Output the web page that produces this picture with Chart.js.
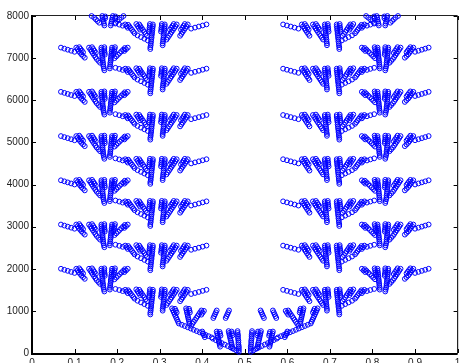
<!DOCTYPE html>
<html>
<head>
<meta charset="utf-8">
<script src="https://cdn.jsdelivr.net/npm/chart.js@4/dist/chart.umd.min.js"></script>
<style>
  html, body { margin: 0; padding: 0; background: #fff; }
  canvas { display: block; }
</style>
</head>
<body>
<canvas id="c" width="461" height="363"></canvas>
<script>
// Axis ticks
const xTicks = [0, 0.1, 0.2, 0.3, 0.4, 0.5, 0.6, 0.7, 0.8, 0.9, 1];
const yTicks = [0, 1000, 2000, 3000, 4000, 5000, 6000, 7000, 8000];

// Outer fronds: x positions shared by every outer row (tail, finger A, B, trunks C, D, finger E)
const outerLeftX = [0.068,0.076,0.084,0.092,0.100,
  0.104,0.107,0.110,0.113,0.116,0.120,0.124, 0.111,0.114,0.117,0.120,
  0.134,0.137,0.140,0.143,0.146,0.149,0.152,0.156,0.160, 0.141,0.144,0.147,0.150,
  0.163,0.163,0.164,0.164,0.165,0.165,0.166,0.166,0.167,0.167,0.168,0.169,0.170, 0.170,0.170,0.170,0.171,0.171,
  0.188,0.188,0.187,0.187,0.186,0.186,0.185,0.185,0.184,0.184,0.183,0.183, 0.195,0.194,0.193,0.192,0.191,
  0.218,0.214,0.210,0.206,0.202,0.198,0.194, 0.225,0.221,0.217];
const outerRightX = [0.932,0.924,0.916,0.908,0.900,
  0.896,0.893,0.890,0.887,0.884,0.880,0.876, 0.889,0.886,0.883,0.880,
  0.866,0.863,0.860,0.857,0.854,0.851,0.848,0.844,0.840, 0.859,0.856,0.853,0.850,
  0.837,0.837,0.836,0.836,0.835,0.835,0.834,0.834,0.833,0.833,0.832,0.831,0.830, 0.830,0.830,0.830,0.829,0.829,
  0.812,0.812,0.813,0.813,0.814,0.814,0.815,0.815,0.816,0.816,0.817,0.817, 0.805,0.806,0.807,0.808,0.809,
  0.782,0.786,0.790,0.794,0.798,0.802,0.806, 0.775,0.779,0.783];

const outerY2000 = [2000,1975,1950,1925,1900,
  2000,1960,1920,1880,1840,1800,1760, 2010,1970,1930,1890,
  2000,1955,1910,1865,1820,1775,1730,1685,1640, 2010,1965,1920,1875,
  2000,1955,1910,1865,1820,1775,1730,1685,1640,1595,1550,1505,1460, 2010,1965,1920,1875,1830,
  2000,1955,1910,1865,1820,1775,1730,1685,1640,1595,1550,1505, 2010,1965,1920,1875,1830,
  1990,1950,1910,1870,1830,1790,1750, 2000,1960,1920];
const outerY3050 = [3050,3025,3000,2975,2950,
  3050,3010,2970,2930,2890,2850,2810, 3060,3020,2980,2940,
  3050,3005,2960,2915,2870,2825,2780,2735,2690, 3060,3015,2970,2925,
  3050,3005,2960,2915,2870,2825,2780,2735,2690,2645,2600,2555,2510, 3060,3015,2970,2925,2880,
  3050,3005,2960,2915,2870,2825,2780,2735,2690,2645,2600,2555, 3060,3015,2970,2925,2880,
  3040,3000,2960,2920,2880,2840,2800, 3050,3010,2970];
const outerY4100 = [4100,4075,4050,4025,4000,
  4100,4060,4020,3980,3940,3900,3860, 4110,4070,4030,3990,
  4100,4055,4010,3965,3920,3875,3830,3785,3740, 4110,4065,4020,3975,
  4100,4055,4010,3965,3920,3875,3830,3785,3740,3695,3650,3605,3560, 4110,4065,4020,3975,3930,
  4100,4055,4010,3965,3920,3875,3830,3785,3740,3695,3650,3605, 4110,4065,4020,3975,3930,
  4090,4050,4010,3970,3930,3890,3850, 4100,4060,4020];
const outerY5150 = [5150,5125,5100,5075,5050,
  5150,5110,5070,5030,4990,4950,4910, 5160,5120,5080,5040,
  5150,5105,5060,5015,4970,4925,4880,4835,4790, 5160,5115,5070,5025,
  5150,5105,5060,5015,4970,4925,4880,4835,4790,4745,4700,4655,4610, 5160,5115,5070,5025,4980,
  5150,5105,5060,5015,4970,4925,4880,4835,4790,4745,4700,4655, 5160,5115,5070,5025,4980,
  5140,5100,5060,5020,4980,4940,4900, 5150,5110,5070];
const outerY6200 = [6200,6175,6150,6125,6100,
  6200,6160,6120,6080,6040,6000,5960, 6210,6170,6130,6090,
  6200,6155,6110,6065,6020,5975,5930,5885,5840, 6210,6165,6120,6075,
  6200,6155,6110,6065,6020,5975,5930,5885,5840,5795,5750,5705,5660, 6210,6165,6120,6075,6030,
  6200,6155,6110,6065,6020,5975,5930,5885,5840,5795,5750,5705, 6210,6165,6120,6075,6030,
  6190,6150,6110,6070,6030,5990,5950, 6200,6160,6120];
const outerY7250 = [7250,7225,7200,7175,7150,
  7250,7210,7170,7130,7090,7050,7010, 7260,7220,7180,7140,
  7250,7205,7160,7115,7070,7025,6980,6935,6890, 7260,7215,7170,7125,
  7250,7205,7160,7115,7070,7025,6980,6935,6890,6845,6800,6755,6710, 7260,7215,7170,7125,7080,
  7250,7205,7160,7115,7070,7025,6980,6935,6890,6845,6800,6755, 7260,7215,7170,7125,7080,
  7240,7200,7160,7120,7080,7040,7000, 7250,7210,7170];

// Inner fronds: x positions shared by every inner row
const innerLeftX = [0.410,0.401,0.392,0.383,0.374,
  0.366,0.363,0.360,0.357,0.354,0.351,0.348, 0.359,0.356,0.353,0.350,
  0.340,0.337,0.334,0.331,0.328,0.325,0.322,0.319,0.316, 0.333,0.330,0.327,0.324,
  0.312,0.312,0.311,0.311,0.310,0.310,0.309,0.309,0.308,0.308,0.307,0.307, 0.305,0.305,0.304,0.304,0.303,
  0.284,0.284,0.283,0.283,0.282,0.282,0.281,0.281,0.280,0.280,0.279,0.279,0.278,0.278, 0.277,0.277,0.276,0.276,0.275,
  0.252,0.255,0.258,0.261,0.264,0.267,0.270, 0.245,0.248,0.251,0.254,
  0.226,0.229,0.232,0.235,0.238,0.241, 0.219,0.222,0.225,
  0.196,0.205,0.213,
  0.248,0.256,0.264,0.272];
const innerRightX = [0.590,0.599,0.608,0.617,0.626,
  0.634,0.637,0.640,0.643,0.646,0.649,0.652, 0.641,0.644,0.647,0.650,
  0.660,0.663,0.666,0.669,0.672,0.675,0.678,0.681,0.684, 0.667,0.670,0.673,0.676,
  0.688,0.688,0.689,0.689,0.690,0.690,0.691,0.691,0.692,0.692,0.693,0.693, 0.695,0.695,0.696,0.696,0.697,
  0.716,0.716,0.717,0.717,0.718,0.718,0.719,0.719,0.720,0.720,0.721,0.721,0.722,0.722, 0.723,0.723,0.724,0.724,0.725,
  0.748,0.745,0.742,0.739,0.736,0.733,0.730, 0.755,0.752,0.749,0.746,
  0.774,0.771,0.768,0.765,0.762,0.759, 0.781,0.778,0.775,
  0.804,0.795,0.787,
  0.752,0.744,0.736,0.728];

const innerY1500 = [1500,1475,1450,1425,1400,
  1500,1455,1410,1365,1320,1275,1230, 1510,1465,1420,1375,
  1500,1455,1410,1365,1320,1275,1230,1185,1140, 1510,1465,1420,1375,
  1500,1455,1410,1365,1320,1275,1230,1185,1140,1095,1050,1005, 1510,1465,1420,1375,1330,
  1500,1455,1410,1365,1320,1275,1230,1185,1140,1095,1050,1005,960,915, 1510,1465,1420,1375,1330,
  1500,1455,1410,1365,1320,1275,1230, 1510,1465,1420,1375,
  1490,1450,1410,1370,1330,1290, 1500,1460,1420,
  1520,1495,1470,
  1240,1200,1160,1120];
const innerY2550 = [2550,2525,2500,2475,2450,
  2550,2505,2460,2415,2370,2325,2280, 2560,2515,2470,2425,
  2550,2505,2460,2415,2370,2325,2280,2235,2190, 2560,2515,2470,2425,
  2550,2505,2460,2415,2370,2325,2280,2235,2190,2145,2100,2055, 2560,2515,2470,2425,2380,
  2550,2505,2460,2415,2370,2325,2280,2235,2190,2145,2100,2055,2010,1965, 2560,2515,2470,2425,2380,
  2550,2505,2460,2415,2370,2325,2280, 2560,2515,2470,2425,
  2540,2500,2460,2420,2380,2340, 2550,2510,2470,
  2570,2545,2520,
  2290,2250,2210,2170];
const innerY3600 = [3600,3575,3550,3525,3500,
  3600,3555,3510,3465,3420,3375,3330, 3610,3565,3520,3475,
  3600,3555,3510,3465,3420,3375,3330,3285,3240, 3610,3565,3520,3475,
  3600,3555,3510,3465,3420,3375,3330,3285,3240,3195,3150,3105, 3610,3565,3520,3475,3430,
  3600,3555,3510,3465,3420,3375,3330,3285,3240,3195,3150,3105,3060,3015, 3610,3565,3520,3475,3430,
  3600,3555,3510,3465,3420,3375,3330, 3610,3565,3520,3475,
  3590,3550,3510,3470,3430,3390, 3600,3560,3520,
  3620,3595,3570,
  3340,3300,3260,3220];
const innerY4600 = [4600,4575,4550,4525,4500,
  4600,4555,4510,4465,4420,4375,4330, 4610,4565,4520,4475,
  4600,4555,4510,4465,4420,4375,4330,4285,4240, 4610,4565,4520,4475,
  4600,4555,4510,4465,4420,4375,4330,4285,4240,4195,4150,4105, 4610,4565,4520,4475,4430,
  4600,4555,4510,4465,4420,4375,4330,4285,4240,4195,4150,4105,4060,4015, 4610,4565,4520,4475,4430,
  4600,4555,4510,4465,4420,4375,4330, 4610,4565,4520,4475,
  4590,4550,4510,4470,4430,4390, 4600,4560,4520,
  4620,4595,4570,
  4340,4300,4260,4220];
const innerY5650 = [5650,5625,5600,5575,5550,
  5650,5605,5560,5515,5470,5425,5380, 5660,5615,5570,5525,
  5650,5605,5560,5515,5470,5425,5380,5335,5290, 5660,5615,5570,5525,
  5650,5605,5560,5515,5470,5425,5380,5335,5290,5245,5200,5155, 5660,5615,5570,5525,5480,
  5650,5605,5560,5515,5470,5425,5380,5335,5290,5245,5200,5155,5110,5065, 5660,5615,5570,5525,5480,
  5650,5605,5560,5515,5470,5425,5380, 5660,5615,5570,5525,
  5640,5600,5560,5520,5480,5440, 5650,5610,5570,
  5670,5645,5620,
  5390,5350,5310,5270];
const innerY6750 = [6750,6725,6700,6675,6650,
  6750,6705,6660,6615,6570,6525,6480, 6760,6715,6670,6625,
  6750,6705,6660,6615,6570,6525,6480,6435,6390, 6760,6715,6670,6625,
  6750,6705,6660,6615,6570,6525,6480,6435,6390,6345,6300,6255, 6760,6715,6670,6625,6580,
  6750,6705,6660,6615,6570,6525,6480,6435,6390,6345,6300,6255,6210,6165, 6760,6715,6670,6625,6580,
  6750,6705,6660,6615,6570,6525,6480, 6760,6715,6670,6625,
  6740,6700,6660,6620,6580,6540, 6750,6710,6670,
  6770,6745,6720,
  6490,6450,6410,6370];
const innerY7800 = [7800,7775,7750,7725,7700,
  7800,7755,7710,7665,7620,7575,7530, 7810,7765,7720,7675,
  7800,7755,7710,7665,7620,7575,7530,7485,7440, 7810,7765,7720,7675,
  7800,7755,7710,7665,7620,7575,7530,7485,7440,7395,7350,7305, 7810,7765,7720,7675,7630,
  7800,7755,7710,7665,7620,7575,7530,7485,7440,7395,7350,7305,7260,7215, 7810,7765,7720,7675,7630,
  7800,7755,7710,7665,7620,7575,7530, 7810,7765,7720,7675,
  7790,7750,7710,7670,7630,7590, 7800,7760,7720,
  7820,7795,7770,
  7540,7500,7460,7420];

// Partial fronds along the top edge
const topLeft = [[0.140,8000],[0.146,7960],[0.150,7920],[0.154,7880],[0.158,7840],
  [0.165,8000],[0.166,7955],[0.167,7910],[0.168,7865],[0.169,7820],[0.170,7775],
  [0.172,7990],[0.172,7945],
  [0.190,8000],[0.189,7955],[0.188,7910],[0.187,7865],[0.186,7820],[0.185,7775],
  [0.196,7990],[0.195,7945],
  [0.215,8000],[0.210,7960],[0.205,7920],[0.200,7880],[0.196,7840]];
const topRight = [[0.860,8000],[0.854,7960],[0.850,7920],[0.846,7880],[0.842,7840],
  [0.835,8000],[0.834,7955],[0.833,7910],[0.832,7865],[0.831,7820],[0.830,7775],
  [0.828,7990],[0.828,7945],
  [0.810,8000],[0.811,7955],[0.812,7910],[0.813,7865],[0.814,7820],[0.815,7775],
  [0.804,7990],[0.805,7945],
  [0.785,8000],[0.790,7960],[0.795,7920],[0.800,7880],[0.804,7840]];

// Small fronds converging on the bottom centre
const baseLeft = [
  [0.329,1060],[0.331,1015],[0.333,970],[0.335,925],[0.337,880],[0.339,835],[0.341,790],[0.343,745],
  [0.336,1050],[0.338,1005],[0.340,960],
  [0.362,1060],[0.363,1015],[0.364,970],[0.365,925],[0.366,880],[0.367,835],[0.368,790],[0.369,745],[0.370,700],
  [0.369,1050],[0.370,1005],[0.371,960],
  [0.398,1010],[0.395,965],[0.392,920],[0.389,875],[0.386,830],[0.383,785],[0.380,740],[0.377,695],[0.374,650],
  [0.404,1000],[0.401,955],[0.398,910],
  [0.345,700],[0.352,670],[0.359,640],[0.366,610],[0.373,580],[0.380,550],[0.387,520],[0.394,490],[0.401,460],[0.408,430],[0.415,400],[0.422,370],
  [0.434,1010],[0.432,965],[0.430,920],[0.428,875],[0.426,830],
  [0.463,1010],[0.461,965],[0.459,920],[0.457,875],[0.455,830],
  [0.400,510],[0.402,465],[0.404,420],[0.406,375],
  [0.434,510],[0.435,465],[0.436,420],[0.437,375],[0.438,330],[0.439,285],[0.440,240],[0.441,195],[0.442,150],
  [0.441,500],[0.442,455],[0.443,410],
  [0.462,520],[0.463,475],[0.464,430],[0.465,385],[0.466,340],[0.467,295],[0.468,250],[0.469,205],[0.470,160],[0.471,115],
  [0.469,510],[0.470,465],[0.471,420],
  [0.483,520],[0.483,475],[0.484,430],[0.484,385],[0.484,340],[0.485,295],[0.485,250],[0.485,205],[0.486,160],[0.486,115],[0.486,70],[0.486,25],
  [0.425,340],[0.432,305],[0.439,270],[0.446,235],[0.453,200],[0.460,165],[0.467,130],[0.474,95],[0.480,60]];
const baseRight = [
  [0.671,1060],[0.669,1015],[0.667,970],[0.665,925],[0.663,880],[0.661,835],[0.659,790],[0.657,745],
  [0.664,1050],[0.662,1005],[0.660,960],
  [0.638,1060],[0.637,1015],[0.636,970],[0.635,925],[0.634,880],[0.633,835],[0.632,790],[0.631,745],[0.630,700],
  [0.631,1050],[0.630,1005],[0.629,960],
  [0.602,1010],[0.605,965],[0.608,920],[0.611,875],[0.614,830],[0.617,785],[0.620,740],[0.623,695],[0.626,650],
  [0.596,1000],[0.599,955],[0.602,910],
  [0.655,700],[0.648,670],[0.641,640],[0.634,610],[0.627,580],[0.620,550],[0.613,520],[0.606,490],[0.599,460],[0.592,430],[0.585,400],[0.578,370],
  [0.566,1010],[0.568,965],[0.570,920],[0.572,875],[0.574,830],
  [0.537,1010],[0.539,965],[0.541,920],[0.543,875],[0.545,830],
  [0.600,510],[0.598,465],[0.596,420],[0.594,375],
  [0.566,510],[0.565,465],[0.564,420],[0.563,375],[0.562,330],[0.561,285],[0.560,240],[0.559,195],[0.558,150],
  [0.559,500],[0.558,455],[0.557,410],
  [0.538,520],[0.537,475],[0.536,430],[0.535,385],[0.534,340],[0.533,295],[0.532,250],[0.531,205],[0.530,160],[0.529,115],
  [0.531,510],[0.530,465],[0.529,420],
  [0.517,520],[0.517,475],[0.516,430],[0.516,385],[0.516,340],[0.515,295],[0.515,250],[0.515,205],[0.514,160],[0.514,115],[0.514,70],[0.514,25],
  [0.575,340],[0.568,305],[0.561,270],[0.554,235],[0.547,200],[0.540,165],[0.533,130],[0.526,95],[0.520,60]];

// ---- assemble the point list ----
const zip = (xs, ys) => xs.map((x, i) => ({ x: x, y: ys[i] }));
const fromPairs = (arr) => arr.map(p => ({ x: p[0], y: p[1] }));

const outerRows = [outerY2000, outerY3050, outerY4100, outerY5150, outerY6200, outerY7250];
const innerRows = [innerY1500, innerY2550, innerY3600, innerY4600, innerY5650, innerY6750, innerY7800];

let points = [];
outerRows.forEach(r => { points = points.concat(zip(outerLeftX, r), zip(outerRightX, r)); });
innerRows.forEach(r => { points = points.concat(zip(innerLeftX, r), zip(innerRightX, r)); });
points = points.concat(fromPairs(topLeft), fromPairs(topRight), fromPairs(baseLeft), fromPairs(baseRight));

const FONT = { family: "'Liberation Sans', Arial, Helvetica, sans-serif", size: 10 };

// Box frame with inward tick marks
const frame = {
  id: 'frame',
  beforeDatasetsDraw(chart) {
    const { ctx, chartArea: a, scales: { x, y } } = chart;
    ctx.save();
    ctx.strokeStyle = '#000';
    ctx.lineWidth = 1;
    const tl = 4;
    ctx.beginPath();
    xTicks.forEach(v => {
      const px = Math.round(x.getPixelForValue(v)) + 0.5;
      ctx.moveTo(px, a.bottom); ctx.lineTo(px, a.bottom - tl);
      ctx.moveTo(px, a.top); ctx.lineTo(px, a.top + tl);
    });
    yTicks.forEach(v => {
      const py = Math.round(y.getPixelForValue(v)) + 0.5;
      ctx.moveTo(a.left, py); ctx.lineTo(a.left + tl, py);
      ctx.moveTo(a.right, py); ctx.lineTo(a.right - tl, py);
    });
    ctx.stroke();
    ctx.strokeStyle = '#222';
    ctx.lineWidth = 1.2;
    ctx.beginPath();
    ctx.moveTo(a.left, a.top - 0.5); ctx.lineTo(a.right, a.top - 0.5);
    ctx.moveTo(a.right, a.top); ctx.lineTo(a.right, a.bottom);
    ctx.stroke();
    ctx.strokeStyle = '#000';
    ctx.lineWidth = 2;
    ctx.beginPath();
    ctx.moveTo(a.left, a.top - 1); ctx.lineTo(a.left, a.bottom + 1);
    ctx.lineTo(a.right, a.bottom + 1);
    ctx.stroke();
    ctx.restore();
  }
};

new Chart(document.getElementById('c'), {
  type: 'scatter',
  data: {
    datasets: [{
      data: points,
      showLine: false,
      pointStyle: 'circle',
      pointRadius: 2.4,
      pointHoverRadius: 2.4,
      borderWidth: 1,
      borderColor: '#0000ff',
      backgroundColor: 'rgba(0,0,0,0)',
      clip: false
    }]
  },
  options: {
    responsive: false,
    animation: false,
    events: [],
    layout: { padding: { top: 16, right: 1, left: 0, bottom: 0 } },
    plugins: { legend: { display: false }, tooltip: { enabled: false }, title: { display: false } },
    scales: {
      x: {
        type: 'linear', min: 0, max: 1,
        afterBuildTicks: s => { s.ticks = xTicks.map(v => ({ value: v })); },
        afterFit: s => { s.height = 10; s.paddingLeft = 0; s.paddingRight = 0; },
        grid: { display: false, drawTicks: false },
        border: { display: false },
        ticks: { font: FONT, color: '#222', padding: 4, maxRotation: 0, autoSkip: false,
                 callback: v => String(v) }
      },
      y: {
        type: 'linear', min: 0, max: 8000,
        afterBuildTicks: s => { s.ticks = yTicks.map(v => ({ value: v })); },
        afterFit: s => { s.width = 32; s.paddingTop = 0; s.paddingBottom = 0; },
        grid: { display: false, drawTicks: false },
        border: { display: false },
        ticks: { font: FONT, color: '#222', padding: 3, autoSkip: false,
                 callback: v => String(v) }
      }
    }
  },
  plugins: [frame]
});
</script>
</body>
</html>
